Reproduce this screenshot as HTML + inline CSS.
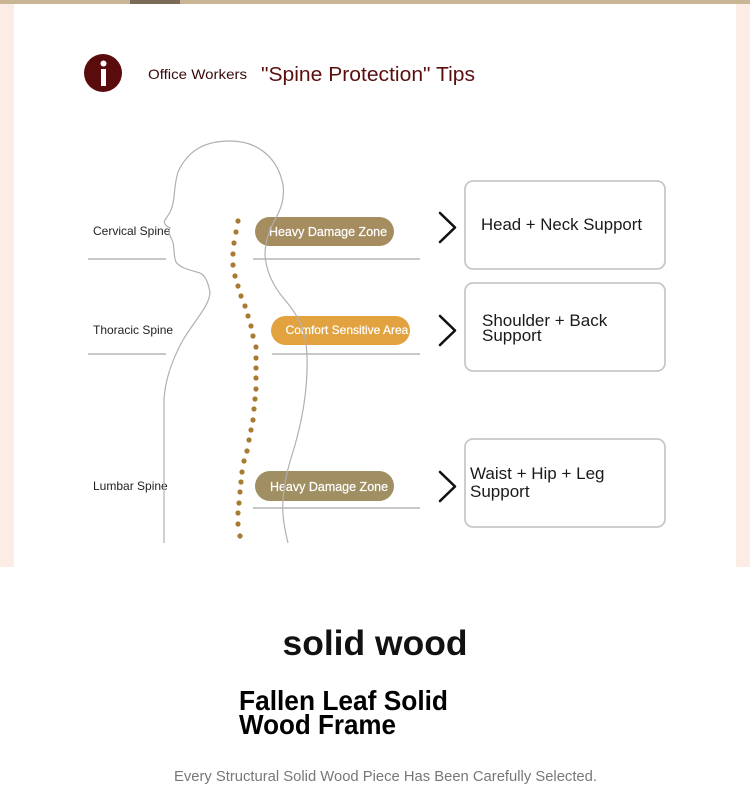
<!DOCTYPE html>
<html><head><meta charset="utf-8"><style>
html,body{margin:0;padding:0;background:#fff;}
body{width:750px;height:805px;overflow:hidden;}
text{font-family:"Liberation Sans",Arial,sans-serif;}
</style></head><body>
<svg width="750" height="805" viewBox="0 0 750 805" xmlns="http://www.w3.org/2000/svg">
<rect x="0" y="0" width="750" height="805" fill="#fff"/>
<rect x="0" y="0" width="750" height="4" fill="#c9b595"/>
<rect x="130" y="0" width="50" height="4" fill="#7a6a58"/>
<rect x="0" y="4" width="14" height="563" fill="#fbede5"/>
<rect x="736" y="4" width="14" height="563" fill="#fbede5"/>

<!-- header -->
<circle cx="103" cy="73" r="19" fill="#5a0c0c"/>
<circle cx="103.5" cy="63.5" r="3" fill="#fff"/>
<rect x="101" y="69" width="5" height="17" fill="#fff"/>
<text x="148" y="79" font-size="14" fill="#3a0a0a" textLength="99" lengthAdjust="spacingAndGlyphs">Office Workers</text>
<text x="261" y="81" font-size="20" fill="#5a0f0f" textLength="214" lengthAdjust="spacingAndGlyphs">"Spine Protection" Tips</text>

<!-- labels + lines -->
<text x="93" y="235" font-size="12" fill="#222">Cervical Spine</text>
<text x="93" y="334" font-size="12" fill="#222">Thoracic Spine</text>
<text x="93" y="490" font-size="12" fill="#222">Lumbar Spine</text>
<g stroke="#a8a8a8" stroke-width="1.3">
<line x1="88" y1="259" x2="166" y2="259"/>
<line x1="253" y1="259" x2="420" y2="259"/>
<line x1="88" y1="354" x2="166" y2="354"/>
<line x1="272" y1="354" x2="420" y2="354"/>
<line x1="253" y1="508" x2="420" y2="508"/>
</g>

<!-- pills -->
<rect x="255" y="217" width="139" height="29" rx="14.5" fill="#a58d60"/>
<rect x="271" y="316" width="139" height="29" rx="14.5" fill="#e2a23f"/>
<rect x="255" y="471" width="139" height="30" rx="15" fill="#a08f62"/>
<text x="328" y="236" font-size="12.5" fill="#fff" text-anchor="middle" stroke="#fff" stroke-width="0.2">Heavy Damage Zone</text>
<text x="347" y="334" font-size="12" fill="#fff" text-anchor="middle" stroke="#fff" stroke-width="0.2">Comfort Sensitive Area</text>
<text x="329" y="491" font-size="12.5" fill="#fff" text-anchor="middle" stroke="#fff" stroke-width="0.2">Heavy Damage Zone</text>

<!-- silhouette -->
<g fill="none" stroke="#b0b0b0" stroke-width="1.2">
<path d="M164,543 L164,400 C165,380 172,360 183,340 C195,320 210,305 210,292 C208,283 206,276 200,273 C190,270 180,268 176,262 C173,255 175,245 172,240 C170,236 168,232 170,228 C166,226 163,223 165,220 C169,214 172,210 173,203 C175,195 174,185 178,172 C188,150 205,141 230,141 C258,141 278,158 283,185 C285,200 280,210 276,218 C270,228 265,240 265,255 C266,270 272,285 285,300 C298,315 306,330 307,355 C308,385 303,420 292,455 C284,480 282,500 283,515 C284,525 286,535 288,543"/>
</g>

<!-- spine dots -->
<g fill="#a87a32">
<circle cx="238" cy="221" r="2.6"/><circle cx="236" cy="232" r="2.6"/><circle cx="234" cy="243" r="2.6"/>
<circle cx="233" cy="254" r="2.6"/><circle cx="233" cy="265" r="2.6"/><circle cx="235" cy="276" r="2.6"/>
<circle cx="238" cy="286" r="2.6"/><circle cx="241" cy="296" r="2.6"/><circle cx="245" cy="306" r="2.6"/>
<circle cx="248" cy="316" r="2.6"/><circle cx="251" cy="326" r="2.6"/><circle cx="253" cy="336" r="2.6"/>
<circle cx="256" cy="347" r="2.6"/><circle cx="256" cy="358" r="2.6"/><circle cx="256" cy="368" r="2.6"/>
<circle cx="256" cy="378" r="2.6"/><circle cx="256" cy="389" r="2.6"/><circle cx="255" cy="399" r="2.6"/>
<circle cx="254" cy="409" r="2.6"/><circle cx="253" cy="420" r="2.6"/><circle cx="251" cy="430" r="2.6"/>
<circle cx="249" cy="440" r="2.6"/><circle cx="247" cy="451" r="2.6"/><circle cx="244" cy="461" r="2.6"/>
<circle cx="242" cy="472" r="2.6"/><circle cx="241" cy="482" r="2.6"/><circle cx="240" cy="492" r="2.6"/>
<circle cx="239" cy="503" r="2.6"/><circle cx="238" cy="513" r="2.6"/><circle cx="238" cy="524" r="2.6"/>
<circle cx="240" cy="536" r="2.6"/>
</g>

<!-- chevrons -->
<g fill="none" stroke="#111" stroke-width="2.6" stroke-linecap="round" stroke-linejoin="round">
<polyline points="440,213 455,227.5 440,242"/>
<polyline points="440,316 455,330.5 440,345"/>
<polyline points="440,472 455,486.5 440,501"/>
</g>

<!-- boxes -->
<g fill="#fff" stroke="#c8c8c8" stroke-width="1.8">
<rect x="465" y="181" width="200" height="88" rx="8"/>
<rect x="465" y="283" width="200" height="88" rx="8"/>
<rect x="465" y="439" width="200" height="88" rx="8"/>
</g>
<text x="481" y="230" font-size="17" fill="#1a1a1a" textLength="161" lengthAdjust="spacingAndGlyphs">Head + Neck Support</text>
<text x="482" y="326" font-size="17" fill="#1a1a1a">Shoulder + Back</text>
<text x="482" y="341" font-size="17" fill="#1a1a1a">Support</text>
<text x="470" y="479" font-size="17" fill="#1a1a1a">Waist + Hip + Leg</text>
<text x="470" y="497" font-size="17" fill="#1a1a1a">Support</text>

<!-- bottom -->
<text x="375" y="655" font-size="35" font-weight="bold" fill="#111" text-anchor="middle" textLength="185" lengthAdjust="spacingAndGlyphs">solid wood</text>
<text x="239" y="710" font-size="28" font-weight="bold" fill="#000" textLength="209" lengthAdjust="spacingAndGlyphs">Fallen Leaf Solid</text>
<text x="239" y="734" font-size="28" font-weight="bold" fill="#000" textLength="157" lengthAdjust="spacingAndGlyphs">Wood Frame</text>
<text x="174" y="781" font-size="15" fill="#777" textLength="423" lengthAdjust="spacingAndGlyphs">Every Structural Solid Wood Piece Has Been Carefully Selected.</text>
</svg>
</body></html>
